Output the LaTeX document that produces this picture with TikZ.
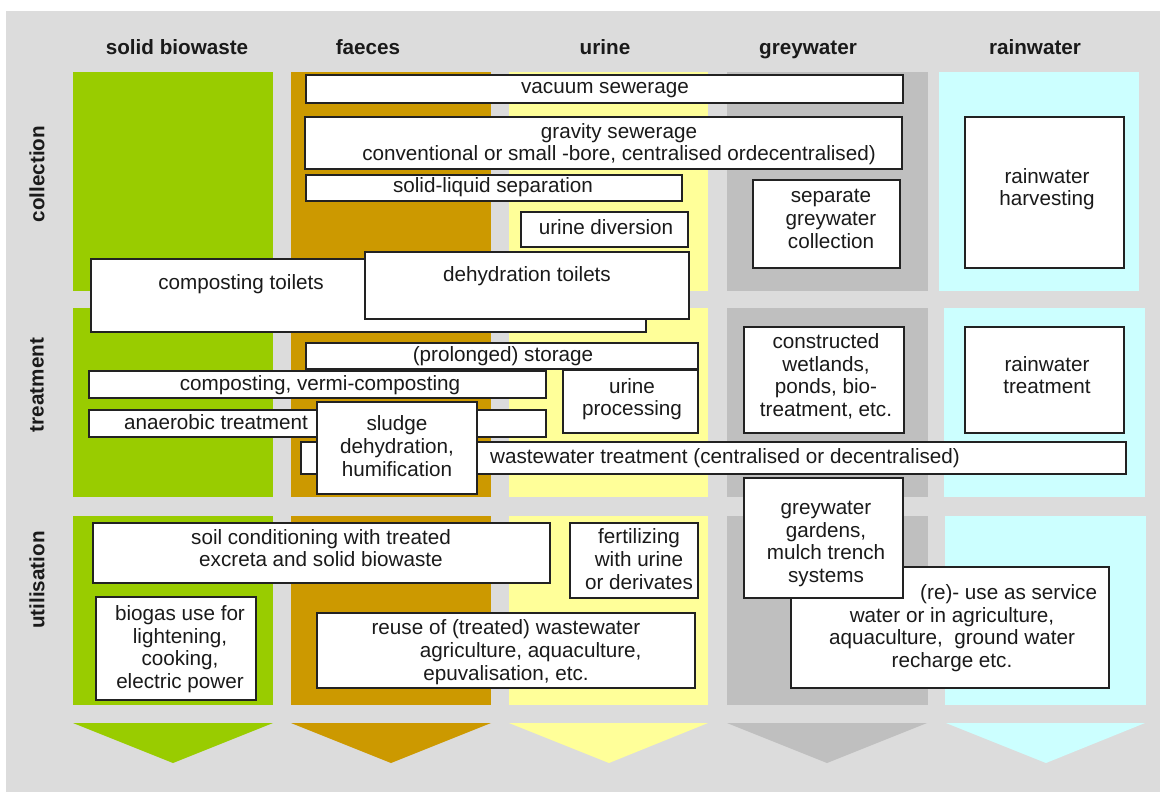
\documentclass[tikz,border=0pt]{standalone}
\usepackage{fontspec}
\setmainfont{Liberation Sans}
\definecolor{bgc}{HTML}{DCDCDC}
\definecolor{cgreen}{HTML}{99CC00}
\definecolor{cbrown}{HTML}{CC9900}
\definecolor{cyellow}{HTML}{FFFF99}
\definecolor{cgrey}{HTML}{BFBFBF}
\definecolor{ccyan}{HTML}{CCFFFF}
\definecolor{boxline}{HTML}{222222}
\definecolor{txtc}{HTML}{1A1A1A}
\tikzset{
  box/.style={draw=boxline, fill=white, line width=1.4pt, inner sep=0pt},
  txt/.style={font=\fontsize{15.5}{17}\selectfont, text=txtc, align=center, inner sep=0pt},
  hdr/.style={font=\fontsize{15.5}{17}\selectfont\bfseries, text=txtc, anchor=base, inner sep=0pt},
  rowlab/.style={font=\fontsize{15.5}{17}\selectfont\bfseries, rotate=90, text=txtc, inner sep=0pt},
}
\newcommand\bx[5]{\node[box, minimum width={(#4-#2)*0.75pt}, minimum height={(#5-#3)*0.75pt}] (#1) at ({(#2+#4)/2},{(#3+#5)/2}) {};}
\begin{document}
\begin{tikzpicture}[x=0.75pt,y=-0.75pt]
\useasboundingbox (0,0) rectangle (1160,792);
\fill[white] (0,0) rectangle (1160,792);
\fill[bgc] (6,11) rectangle (1160,792);
% headers
\node[hdr] (h1) at (177,55) {solid biowaste};
\node[hdr] (h2) at (368,55) {faeces};
\node[hdr] (h3) at (605,55) {urine};
\node[hdr] (h4) at (808,55) {greywater};
\node[hdr] (h5) at (1035,55) {rainwater};
% row labels
\node[rowlab] (r1) at (37,174) {collection};
\node[rowlab] (r2) at (37,385) {treatment};
\node[rowlab] (r3) at (37,580) {utilisation};
% columns
\foreach \ya/\yb in {72/291, 308/497, 516/705} {
  \fill[cgreen]  (73,\ya) rectangle (273,\yb);
  \fill[cbrown]  (291,\ya) rectangle (491,\yb);
  \fill[cyellow] (509,\ya) rectangle (708,\yb);
  \fill[cgrey]   (727,\ya) rectangle (928,\yb);
}
\fill[ccyan] (939,72) rectangle (1139,291);
\fill[ccyan] (944,308) rectangle (1145,497);
\fill[ccyan] (945,516) rectangle (1146,705);
% arrows
\fill[cgreen]  (73,723) -- (273,723) -- (173,763) -- cycle;
\fill[cbrown]  (291,723) -- (491,723) -- (391,763) -- cycle;
\fill[cyellow] (509,723) -- (708,723) -- (609,763) -- cycle;
\fill[cgrey]   (727,723) -- (927,723) -- (827,763) -- cycle;
\fill[ccyan]   (946,723) -- (1145,723) -- (1046,763) -- cycle;
% collection
\bx{vac}{306}{75}{903}{103}
\node[txt] (vac-t) at (605,89) {\strut vacuum sewerage};
\bx{grav}{305}{117}{902}{169}
\node[txt] (grav-t) at (619,145) {\strut gravity sewerage\\conventional or small -bore, centralised ordecentralised)\strut};
\bx{sl}{306}{175}{682}{201}
\node[txt] (sl-t) at (493,188) {\strut solid-liquid separation};
\bx{ud}{521}{212}{688}{247}
\node[txt] (ud-t) at (606,230) {\strut urine diversion};
\bx{sgc}{753}{180}{900}{268}
\node[txt] (sgc-t) at (831,221) {\strut separate\\greywater\\collection\strut};
\bx{rh}{965}{117}{1124}{268}
\node[txt] (rh-t) at (1047,190) {\strut rainwater\\harvesting\strut};
\bx{ct}{91}{259}{646}{332}
\node[txt] (ct-t) at (241,285) {\strut composting toilets};
\bx{dt}{365}{252}{689}{319}
\node[txt] (dt-t) at (527,277) {\strut dehydration toilets};
% treatment
\bx{st}{306}{343}{698}{369}
\node[txt] (st-t) at (503,357) {\strut (prolonged) storage};
\bx{cv}{89}{371}{546}{398}
\node[txt] (cv-t) at (320,386) {\strut composting, vermi-composting};
\bx{up}{563}{370}{698}{433}
\node[txt] (up-t) at (632,400) {\strut urine\\processing\strut};
\bx{an}{89}{410}{546}{437}
\node[txt] (an-t) at (216,425) {\strut anaerobic treatment};
\bx{ww}{301}{442}{1126}{474}
\node[txt] (ww-t) at (725,459) {\strut wastewater treatment (centralised or decentralised)};
\bx{sd}{317}{402}{477}{494}
\node[txt] (sd-t) at (397,449) {\strut sludge\\dehydration,\\humification\strut};
\bx{cw}{744}{327}{904}{433}
\node[txt] (cw-t) at (826,378) {\strut constructed\\wetlands,\\ponds, bio-\\treatment, etc.\strut};
\bx{rt}{965}{327}{1124}{433}
\node[txt] (rt-t) at (1047,378) {\strut rainwater\\treatment\strut};
% utilisation
\bx{sc}{93}{523}{550}{583}
\node[txt] (sc-t) at (321,551) {\strut soil conditioning with treated\\excreta and solid biowaste\strut};
\bx{fw}{570}{523}{698}{598}
\node[txt] (fw-t) at (639,562) {\strut fertilizing\\with urine\\or derivates\strut};
\bx{bg}{96}{597}{256}{700}
\node[txt] (bg-t) at (180,650) {\strut biogas use for\\lightening,\\cooking,\\electric power\strut};
\bx{rw}{317}{613}{695}{688}
\node[txt] (rw-t) at (506,653) {\strut reuse of (treated) wastewater\\\hspace*{37pt}agriculture, aquaculture,\\epuvalisation, etc.\strut};
\bx{rs}{791}{567}{1109}{688}
\node[txt] (rs-t) at (952,629) {\strut\hspace*{85pt}(re)- use as service\\water or in agriculture,\\aquaculture,~ ground water\\recharge etc.\strut};
\bx{gg}{744}{478}{903}{598}
\node[txt] (gg-t) at (826,544) {\strut greywater\\gardens,\\mulch trench\\systems\strut};
\end{tikzpicture}
\end{document}
